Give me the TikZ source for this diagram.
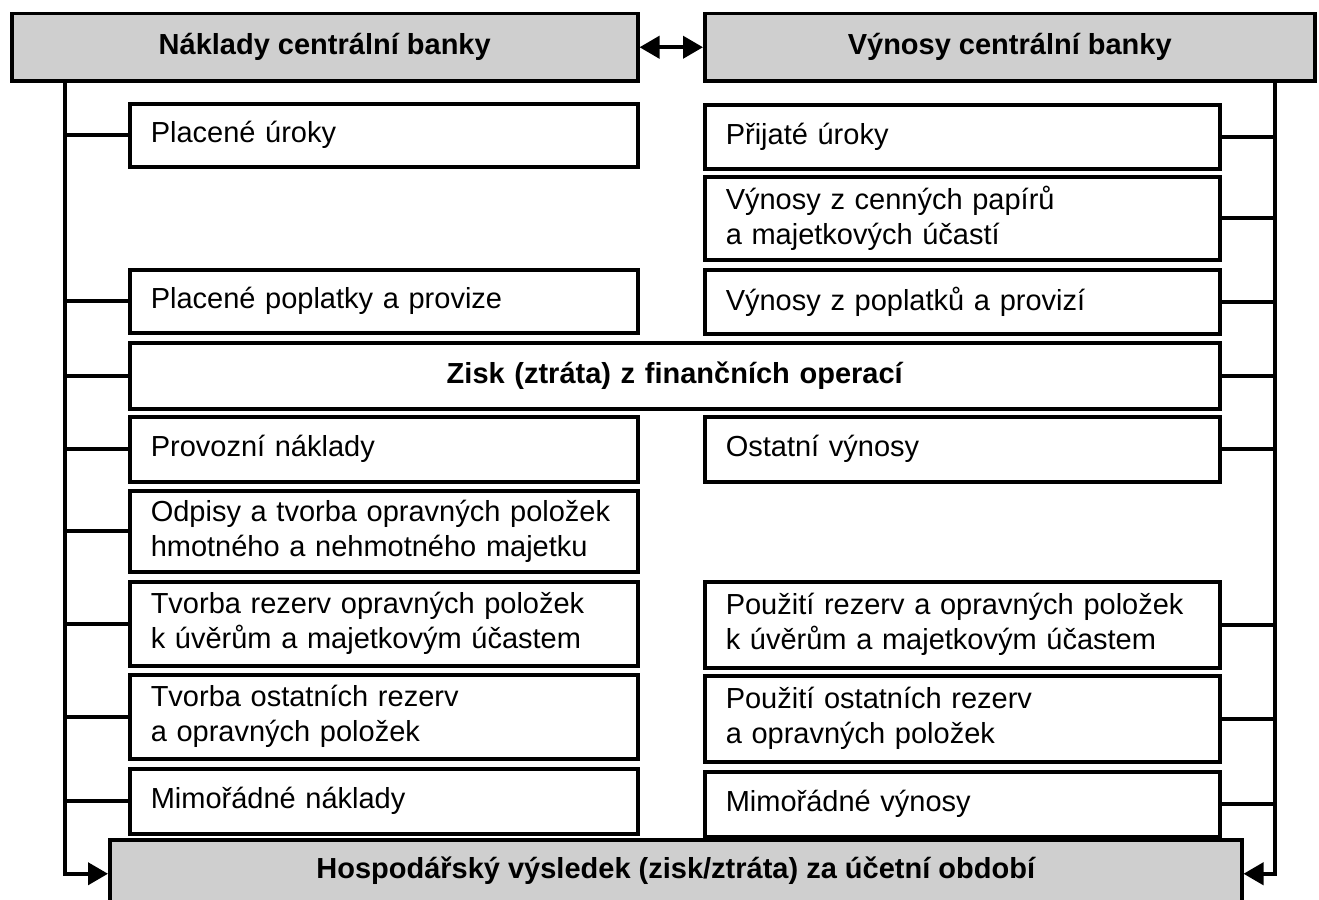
\documentclass[tikz,border=0pt]{standalone}
\usepackage{fontspec}
\setmainfont{Liberation Sans}
\usetikzlibrary{arrows.meta}
\tikzset{
  box/.style={draw, line width=3.5pt, fill=white, anchor=north west, inner xsep=21pt, inner ysep=0pt, align=left, font=\fontsize{29}{35}\selectfont},
  lbox/.style={box, text width=466pt},
  rbox/.style={box, text width=473pt},
  hdr/.style={draw, line width=3.5pt, fill=gray!38, anchor=north west, inner sep=0pt, font=\bfseries\fontsize{29}{35}\selectfont},
  conn/.style={line width=4pt},
  tip/.style={-{Triangle[length=20pt,width=22pt]}},
}
\begin{document}
\begin{tikzpicture}[x=1pt,y=-1pt]
\useasboundingbox (0,0) rectangle (1319,899);
% headers
\node[hdr, minimum width=626pt, minimum height=67pt] (hl) at (10,12) {Náklady centrální banky};
\node[hdr, minimum width=610pt, minimum height=67pt] (hr) at (703,12) {Výnosy centrální banky};
% left column
\node[lbox, minimum height=63pt] (pu) at (128,102) {Placené úroky};
\node[lbox, minimum height=63pt] (pp) at (128,268) {Placené poplatky a provize};
\node[box, align=center, text width=1048pt, minimum height=66pt, font=\bfseries\fontsize{29}{35}\selectfont] (zisk) at (128,341) {Zisk (ztráta) z finančních operací};
\node[lbox, minimum height=65pt] (pn) at (128,415) {Provozní náklady};
\node[lbox, minimum height=81pt] (od) at (128,489) {Odpisy a tvorba opravných položek\\hmotného a nehmotného majetku};
\node[lbox, minimum height=84pt] (tr) at (128,580) {Tvorba rezerv opravných položek\\k úvěrům a majetkovým účastem};
\node[lbox, minimum height=84pt] (to) at (128,673) {Tvorba ostatních rezerv\\a opravných položek};
\node[lbox, minimum height=65pt] (mn) at (128,767) {Mimořádné náklady};
% right column
\node[rbox, minimum height=64pt] (prij) at (703,103) {Přijaté úroky};
\node[rbox, minimum height=83pt] (vcp) at (703,175) {Výnosy z cenných papírů\\a majetkových účastí};
\node[rbox, minimum height=64pt] (vpp) at (703,268) {Výnosy z poplatků a provizí};
\node[rbox, minimum height=65pt] (ov) at (703,415) {Ostatní výnosy};
\node[rbox, minimum height=86pt] (pr) at (703,580) {Použití rezerv a opravných položek\\k úvěrům a majetkovým účastem};
\node[rbox, minimum height=86pt] (po) at (703,674) {Použití ostatních rezerv\\a opravných položek};
\node[rbox, minimum height=65pt] (mv) at (703,770) {Mimořádné výnosy};
% result
\node[hdr, minimum width=1132pt, minimum height=68pt, text depth=12pt] (res) at (108,838) {Hospodářský výsledek (zisk/ztráta) za účetní období};
% connectors
\coordinate (L) at (65,0);
\coordinate (R) at (1275,0);
\draw[conn, {Triangle[length=20pt,width=22pt]}-{Triangle[length=20pt,width=22pt]}] (hl.east) -- (hr.west);
\draw[conn, tip] (hl.south -| L) |- (res.west);
\draw[conn, tip] (hr.south -| R) |- (res.east);
\foreach \n in {pu,pp,zisk,pn,od,tr,to,mn} \draw[conn] (\n.west) -- (\n.west -| L);
\foreach \n in {prij,vcp,vpp,zisk,ov,pr,po,mv} \draw[conn] (\n.east) -- (\n.east -| R);
\end{tikzpicture}
\end{document}
